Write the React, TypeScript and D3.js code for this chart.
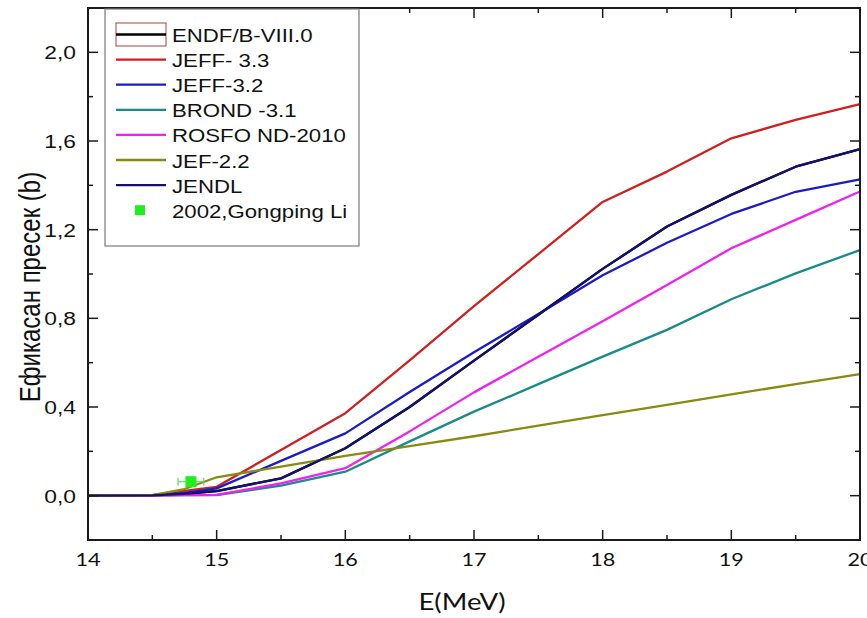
import React from "react";
import * as d3 from "d3";

const energies = [14, 14.5, 14.75, 15, 15.5, 16, 16.5, 17, 17.5, 18, 18.5, 19, 19.5, 20];
const endfB8 = [0, 0.001, 0.008, 0.021, 0.078, 0.214, 0.4, 0.609, 0.816, 1.023, 1.214, 1.357, 1.484, 1.563];
const jeff33 = [0, 0.002, 0.022, 0.04, 0.206, 0.372, 0.61, 0.855, 1.09, 1.325, 1.462, 1.612, 1.695, 1.766];
const jeff32 = [0, 0.002, 0.012, 0.033, 0.157, 0.281, 0.468, 0.647, 0.82, 0.994, 1.141, 1.271, 1.371, 1.427];
const brond31 = [0, 0, 0.002, 0.003, 0.045, 0.108, 0.245, 0.379, 0.503, 0.627, 0.748, 0.886, 1.003, 1.108];
const rosfond2010 = [0, 0, 0.002, 0.004, 0.055, 0.124, 0.29, 0.466, 0.627, 0.787, 0.95, 1.116, 1.244, 1.372];
const jef22 = [0, 0.002, 0.03, 0.083, 0.131, 0.179, 0.224, 0.268, 0.316, 0.363, 0.41, 0.457, 0.503, 0.548];
const jendl = [0, 0.001, 0.008, 0.021, 0.078, 0.214, 0.4, 0.609, 0.816, 1.023, 1.214, 1.357, 1.484, 1.563];

const seriesNames = ["ENDF/B-VIII.0", "JEFF- 3.3", "JEFF-3.2", "BROND -3.1", "ROSFO ND-2010", "JEF-2.2", "JENDL"];
const seriesValues = [endfB8, jeff33, jeff32, brond31, rosfond2010, jef22, jendl];
const seriesColors = ["#000000", "#cf2020", "#1c1cc4", "#1a8a8a", "#ee22ee", "#8a8a12", "#12126e"];

const expName = "2002,Gongping Li";
const expE = [14.8];
const expSigma = [0.063];
const expEErr = [0.1];

const xMajor = [14, 15, 16, 17, 18, 19, 20];
const xMinor = [14.5, 15.5, 16.5, 17.5, 18.5, 19.5];
const yMajor = [0, 0.4, 0.8, 1.2, 1.6, 2.0];
const yMinor = [0.2, 0.6, 1.0, 1.4, 1.8];
const yTickLabels = ["0,0", "0,4", "0,8", "1,2", "1,6", "2,0"];

const SX = 1.2;

function SText({ x, y, size, anchor = "start", family = "'Liberation Sans', Arial, sans-serif", children, fill = "#111" }: any) {
  return (
    <g transform={`translate(${x},${y}) scale(${SX},1)`}>
      <text x={0} y={0} fontSize={size} textAnchor={anchor} fontFamily={family} fill={fill}>
        {children}
      </text>
    </g>
  );
}

export default function App() {
  const W = 867, H = 618;
  const L = 88, R = 860, T = 8, B = 540;
  const x = d3.scaleLinear().domain([14, 20]).range([L, R]);
  const y = d3.scaleLinear().domain([-0.2, 2.2]).range([B, T]);
  const line = d3.line<[number, number]>().x((d) => x(d[0])).y((d) => y(d[1]));

  const legX = 105, legY = 9, legW = 254, legH = 237;
  const rowBase = 42, rowStep = 25.1;
  const axisColor = "#1a1a1a";

  return (
    <svg width={W} height={H} style={{ position: "absolute", left: 0, top: 0, background: "#fff" }}>
      <rect x={0} y={0} width={W} height={H} fill="#fff" />
      {seriesValues.map((vals, i) => (
        <path
          key={seriesNames[i]}
          d={line(energies.map((e, k) => [e, vals[k]]) as [number, number][]) || ""}
          fill="none"
          stroke={seriesColors[i]}
          strokeWidth={2.3}
          strokeLinejoin="round"
        />
      ))}
      {/* experimental point */}
      {expE.map((e, i) => (
        <g key={i}>
          <line x1={x(e - expEErr[i])} x2={x(e + expEErr[i])} y1={y(expSigma[i])} y2={y(expSigma[i])} stroke="#66d866" strokeWidth={1.2} />
          <line x1={x(e - expEErr[i])} x2={x(e - expEErr[i])} y1={y(expSigma[i]) - 4} y2={y(expSigma[i]) + 4} stroke="#66d866" strokeWidth={1.2} />
          <line x1={x(e + expEErr[i])} x2={x(e + expEErr[i])} y1={y(expSigma[i]) - 4} y2={y(expSigma[i]) + 4} stroke="#66d866" strokeWidth={1.2} />
          <rect x={x(e) - 5.5} y={y(expSigma[i]) - 5.5} width={11} height={11} fill="#1fee1f" />
        </g>
      ))}
      {/* frame */}
      <rect x={L} y={T} width={R - L} height={B - T} fill="none" stroke={axisColor} strokeWidth={2} />
      {/* x ticks bottom & top */}
      {xMajor.map((v) => (
        <g key={"xM" + v}>
          <line x1={x(v)} x2={x(v)} y1={B} y2={B - 10} stroke={axisColor} strokeWidth={1.5} />
          <line x1={x(v)} x2={x(v)} y1={T} y2={T + 10} stroke={axisColor} strokeWidth={1.5} />
          <SText x={x(v)} y={566} size={18} anchor="middle" family="Lato, 'Open Sans', sans-serif">{String(v)}</SText>
        </g>
      ))}
      {xMinor.map((v) => (
        <g key={"xm" + v}>
          <line x1={x(v)} x2={x(v)} y1={B} y2={B - 5} stroke={axisColor} strokeWidth={1.5} />
          <line x1={x(v)} x2={x(v)} y1={T} y2={T + 5} stroke={axisColor} strokeWidth={1.5} />
        </g>
      ))}
      {/* y ticks left & right */}
      {yMajor.map((v, i) => (
        <g key={"yM" + v}>
          <line x1={L} x2={L + 10} y1={y(v)} y2={y(v)} stroke={axisColor} strokeWidth={1.5} />
          <line x1={R} x2={R - 10} y1={y(v)} y2={y(v)} stroke={axisColor} strokeWidth={1.5} />
          <SText x={76} y={y(v) + 7} size={19} anchor="end">{yTickLabels[i]}</SText>
        </g>
      ))}
      {yMinor.map((v) => (
        <g key={"ym" + v}>
          <line x1={L} x2={L + 5} y1={y(v)} y2={y(v)} stroke={axisColor} strokeWidth={1.5} />
          <line x1={R} x2={R - 5} y1={y(v)} y2={y(v)} stroke={axisColor} strokeWidth={1.5} />
        </g>
      ))}
      {/* axis titles */}
      <SText x={462} y={610} size={23} anchor="middle" family="Lato, 'Open Sans', sans-serif">E(MeV)</SText>
      <g transform={`translate(40,287) scale(${SX},1) rotate(-90)`}>
        <text x={0} y={0} fontSize={24} textAnchor="middle" fontFamily="'Liberation Sans', Arial, sans-serif" fill="#111">
          Ефикасан пресек (b)
        </text>
      </g>
      {/* legend */}
      <rect x={legX} y={legY} width={legW} height={legH} fill="#fff" stroke="#7a7a7a" strokeWidth={1.2} />
      {seriesNames.map((name, i) => {
        const base = rowBase + i * rowStep;
        const ly = base - 7.5;
        return (
          <g key={"leg" + name}>
            {i === 0 && <rect x={116} y={ly - 11.5} width={50} height={23} fill="none" stroke="#a84040" strokeWidth={1} />}
            <line x1={116} x2={166} y1={ly} y2={ly} stroke={seriesColors[i]} strokeWidth={2.3} />
            <SText x={172} y={base} size={18.5}>{name}</SText>
          </g>
        );
      })}
      <rect x={135} y={rowBase + 7 * rowStep - 12.5} width={10} height={10} fill="#1fee1f" />
      <SText x={172} y={rowBase + 7 * rowStep} size={18.5}>{expName}</SText>
    </svg>
  );
}
